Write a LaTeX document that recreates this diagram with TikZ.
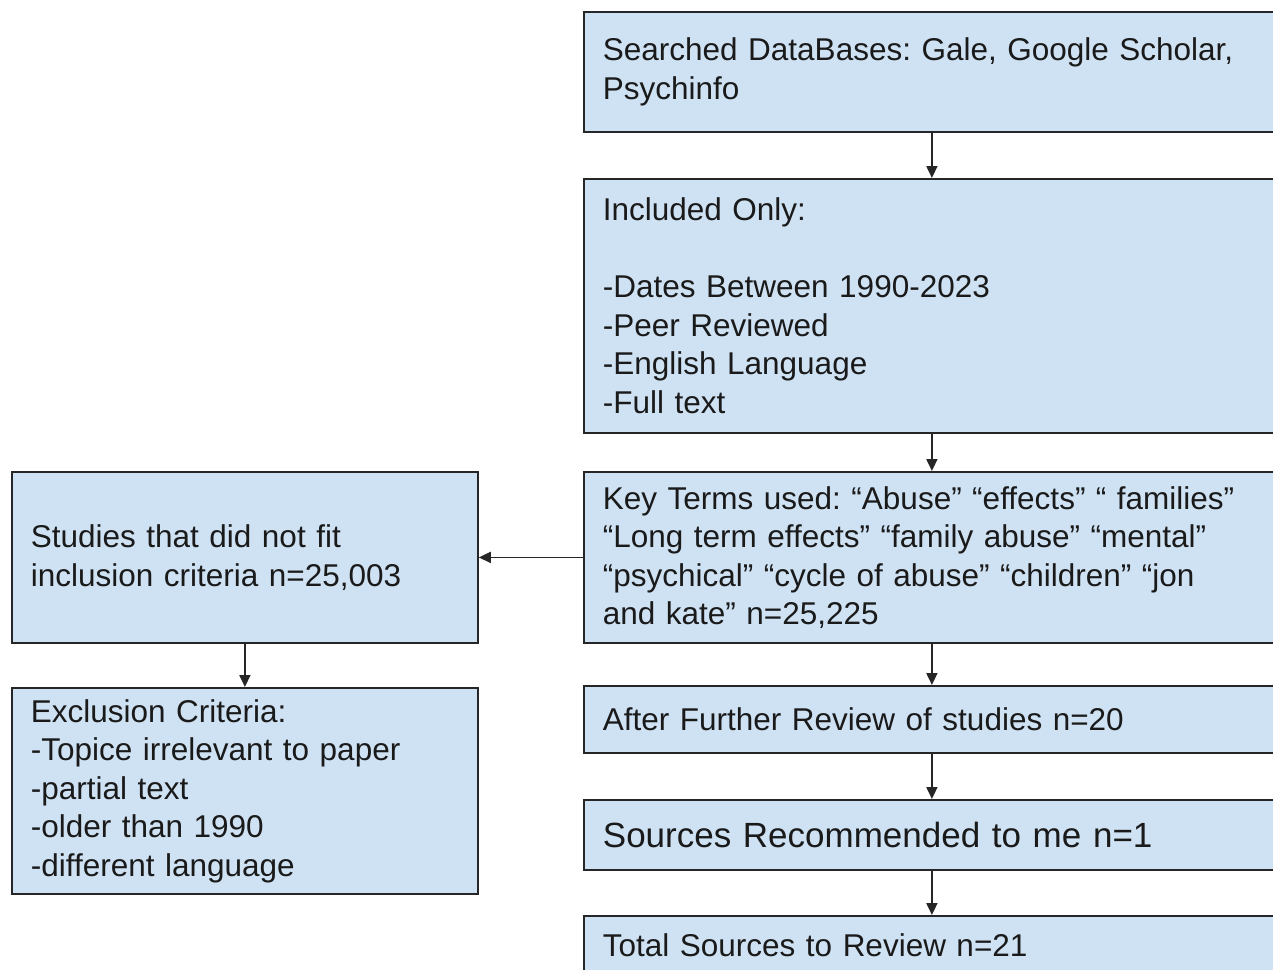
\documentclass[tikz,border=0pt]{standalone}
\usepackage{fontspec}
\setmainfont{Liberation Sans}
\usetikzlibrary{arrows.meta}
\definecolor{boxfill}{HTML}{CFE2F3}
\definecolor{txt}{HTML}{1A1A1A}
\frenchspacing
\begin{document}
\begin{tikzpicture}[x=1pt,y=-1pt,
  fbox/.style={draw=black!85, line width=1.8pt, fill=boxfill, anchor=north west,
    align=left, inner xsep=19pt, inner ysep=0pt, text=txt,
    font=\fontsize{31.5}{38.5}\selectfont\frenchspacing},
  rbox/.style={fbox, text width=658pt},
  lbox/.style={fbox, text width=428pt},
  arr/.style={draw=black!85, line width=1.8pt, -{Triangle[length=12pt,width=11pt]}}]
\useasboundingbox (0,0) rectangle (1273,969);
\clip (0,0) rectangle (1273,969);
\node[rbox, minimum height=120pt] (b1) at (583,11) {Searched DataBases: Gale, Google Scholar,\\Psychinfo};
\node[rbox, minimum height=254pt] (b2) at (583,178) {Included Only:\\ ~\\-Dates Between 1990-2023\\-Peer Reviewed\\-English Language\\-Full text};
\node[rbox, minimum height=171pt] (b3) at (583,471) {Key Terms used: “Abuse” “effects” “ families”\\“Long term effects” “family abuse” “mental”\\“psychical” “cycle of abuse” “children” “jon\\and kate” n=25,225};
\node[rbox, minimum height=67pt] (b4) at (583,685) {After Further Review of studies n=20};
\node[rbox, minimum height=70pt, font=\fontsize{35}{42}\selectfont\frenchspacing] (b5) at (583,799) {Sources Recommended to me n=1};
\node[rbox, minimum height=58pt] (b6) at (583,915) {Total Sources to Review n=21};
\node[lbox, minimum height=171pt] (l1) at (11,471) {Studies that did not fit\\inclusion criteria n=25,003};
\node[lbox, minimum height=206pt] (l2) at (11,687) {Exclusion Criteria:\\-Topice irrelevant to paper\\-partial text\\-older than 1990\\-different language};
\draw[arr] (b1) -- (b2);
\draw[arr] (b2) -- (b3);
\draw[arr] (b3) -- (b4);
\draw[arr] (b4) -- (b5);
\draw[arr] (b5) -- (b6);
\draw[arr] (b3) -- (l1);
\draw[arr] (l1) -- (l2);
\end{tikzpicture}
\end{document}
